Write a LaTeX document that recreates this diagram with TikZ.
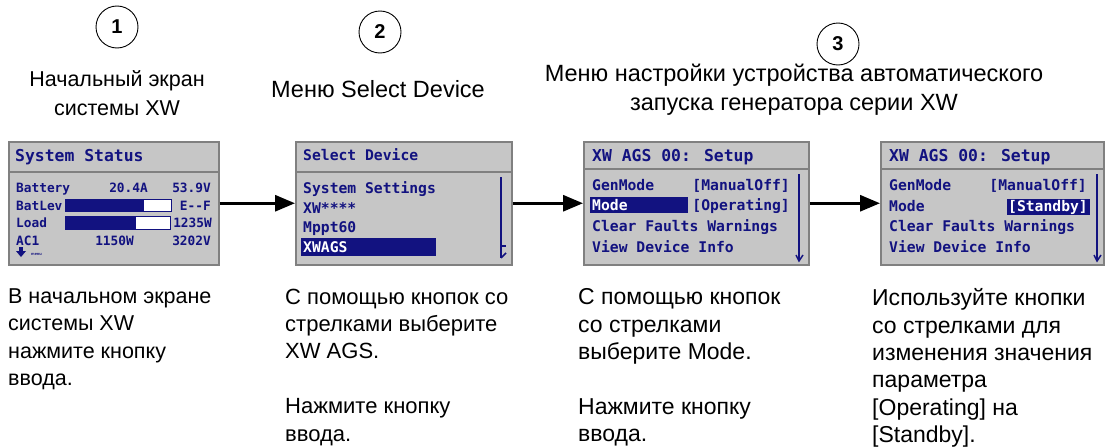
\documentclass[tikz,border=0pt]{standalone}
\usepackage{fontspec}
\setmainfont{Liberation Sans}
\newfontfamily\lcdfont{DejaVu Sans Mono}
\usetikzlibrary{arrows.meta}
\definecolor{lcdgrey}{RGB}{198,198,198}
\definecolor{lcdedge}{RGB}{128,128,128}
\definecolor{lcdblue}{RGB}{18,18,128}
\begin{document}
\begin{tikzpicture}[x=1pt,y=-1pt,
  screen/.style={draw=lcdedge,line width=1.5pt,fill=lcdgrey,inner sep=0pt,anchor=north west,minimum height=123pt},
  divider/.style={draw=lcdedge,line width=1.5pt},
  lcdhead/.style={inner sep=0pt,anchor=base west,text=lcdblue,font=\lcdfont\bfseries\fontsize{16.4}{18}\selectfont},
  lcdrow/.style={inner sep=0pt,anchor=base west,text=lcdblue,font=\lcdfont\bfseries\fontsize{14.7}{16}\selectfont},
  lcdsmall/.style={inner sep=0pt,anchor=base west,text=lcdblue,font=\lcdfont\bfseries\fontsize{12.8}{14}\selectfont},
  hilite/.style={fill=lcdblue},
  scroll/.style={draw=lcdblue,line width=1.5pt},
  stepnum/.style={circle,draw,line width=0.9pt,minimum size=42pt,inner sep=0pt,font=\bfseries\fontsize{20}{20}\selectfont},
  title/.style={align=center,font=\fontsize{23.5}{29}\selectfont},
  howto/.style={align=left,anchor=north west,inner sep=0pt,font=\fontsize{23}{27.4}\selectfont},
  flow/.style={line width=3pt,-{Triangle[length=20pt,width=16pt]}}]
\useasboundingbox (0,0) rectangle (1105,447);

% step numbers and titles
\node[stepnum] (n1) at (117,27) {1};
\node[stepnum] (n2) at (380,32) {2};
\node[stepnum] (n3) at (838,44) {3};
\node[title,font=\fontsize{21.5}{29}\selectfont] (t1) at (117,93) {Начальный экран\\системы XW};
\node[title] (t2) at (378,89) {Меню Select Device};
\node[title] (t3) at (794,90) {Меню настройки устройства автоматического\\запуска генератора серии XW};

% screen 1: System Status
\node[screen,minimum width=210pt] (scr1) at (8,141) {};
\draw[divider] (8,172) -- (218,172);
\node[lcdhead] (s1h) at (15,161) {System Status};
\node[lcdsmall] (s1a) at (16,192) {Battery};
\node[lcdsmall,anchor=base east] (s1b) at (148,192) {20.4A};
\node[lcdsmall,anchor=base east] (s1c) at (211,192) {53.9V};
\node[lcdsmall] (s1d) at (16,210) {BatLev};
\draw[lcdblue,fill=white] (65,199) rectangle (171,211);
\fill[lcdblue] (65,199) rectangle (144,211);
\node[lcdsmall,anchor=base east] (s1e) at (211,210) {E--F};
\node[lcdsmall] (s1f) at (16,227) {Load};
\draw[lcdblue,fill=white] (65,216) rectangle (170,229);
\fill[lcdblue] (65,216) rectangle (136,229);
\node[lcdsmall,anchor=base east] (s1g) at (212,227) {1235W};
\node[lcdsmall] (s1i) at (16,245) {AC1};
\node[lcdsmall,anchor=base east] (s1j) at (134,245) {1150W};
\node[lcdsmall,anchor=base east] (s1k) at (211,245) {3202V};
\fill[lcdblue] (19,247) rectangle (23,251);
\fill[lcdblue] (16,251) -- (26,251) -- (21,257) -- cycle;
\node[inner sep=0pt,anchor=base west,text=lcdblue,font=\bfseries\fontsize{4}{4}\selectfont] (s1m) at (31,255) {menu};

% screen 2: Select Device
\node[screen,minimum width=216pt] (scr2) at (295,141) {};
\draw[divider] (295,172) -- (511,172);
\node[lcdrow] (s2h) at (303,160) {Select Device};
\node[lcdrow] (s2a) at (303,193) {System Settings};
\node[lcdrow] (s2b) at (303,213) {XW****};
\node[lcdrow] (s2c) at (303,232) {Mppt60};
\fill[hilite] (301,238) rectangle (436,256);
\node[lcdrow,text=white] (s2d) at (303,252) {XWAGS};
\draw[scroll] (501,177) -- (501,258);
\draw[scroll] (501,246) -- (506,246);
\draw[scroll] (501,258) -- (506,253);

% screen 3: XW AGS 00 setup
\node[screen,minimum width=225pt] (scr3) at (583,141) {};
\draw[divider] (583,169) -- (808,169);
\node[lcdhead] (s3h) at (592,161) {XW AGS 00: Setup};
\node[lcdrow] (s3a) at (592,190) {GenMode};
\node[lcdrow,anchor=base east] (s3b) at (790,190) {[ManualOff]};
\fill[hilite] (590,197) rectangle (688,213);
\node[lcdrow,text=white] (s3c) at (592,210) {Mode};
\node[lcdrow,anchor=base east] (s3d) at (790,210) {[Operating]};
\node[lcdrow] (s3e) at (592,231) {Clear Faults Warnings};
\node[lcdrow] (s3f) at (592,252) {View Device Info};
\draw[scroll] (799,174) -- (799,261);
\draw[scroll] (796,255) -- (799,261) -- (803,255);

% screen 4: standby chosen
\node[screen,minimum width=223pt] (scr4) at (880,141) {};
\draw[divider] (880,169) -- (1103,169);
\node[lcdhead] (s4h) at (889,161) {XW AGS 00: Setup};
\node[lcdrow] (s4a) at (889,190) {GenMode};
\node[lcdrow,anchor=base east] (s4b) at (1087,190) {[ManualOff]};
\fill[hilite] (1007,199) rectangle (1090,215);
\node[lcdrow] (s4c) at (889,211) {Mode};
\node[lcdrow,text=white,anchor=base east] (s4d) at (1088,211) {[Standby]};
\node[lcdrow] (s4e) at (889,231) {Clear Faults Warnings};
\node[lcdrow] (s4f) at (889,252) {View Device Info};
\draw[scroll] (1097,174) -- (1097,261);
\draw[scroll] (1094,255) -- (1097,261) -- (1101,255);

% arrows between screens
\draw[flow] (scr1.east) -- (scr2.west);
\draw[flow] (scr2.east) -- (scr3.west);
\draw[flow] (scr3.east) -- (scr4.west);

% instructions
\node[howto,font=\fontsize{21.5}{27.4}\selectfont] (d1) at (8,288.5) {В начальном экране\\системы XW\\нажмите кнопку\\ввода.};
\node[howto,font=\fontsize{22}{27.4}\selectfont] (d2) at (285,288.5) {С помощью кнопок со\\стрелками выберите\\XW AGS.\\[27.4pt]Нажмите кнопку\\ввода.};
\node[howto] (d3) at (578,288.5) {С помощью кнопок\\со стрелками\\выберите Mode.\\[27.4pt]Нажмите кнопку\\ввода.};
\node[howto] (d4) at (872,288.5) {Используйте кнопки\\со стрелками для\\изменения значения\\параметра\\\relax[Operating] на\\\relax[Standby].};
\end{tikzpicture}
\end{document}
